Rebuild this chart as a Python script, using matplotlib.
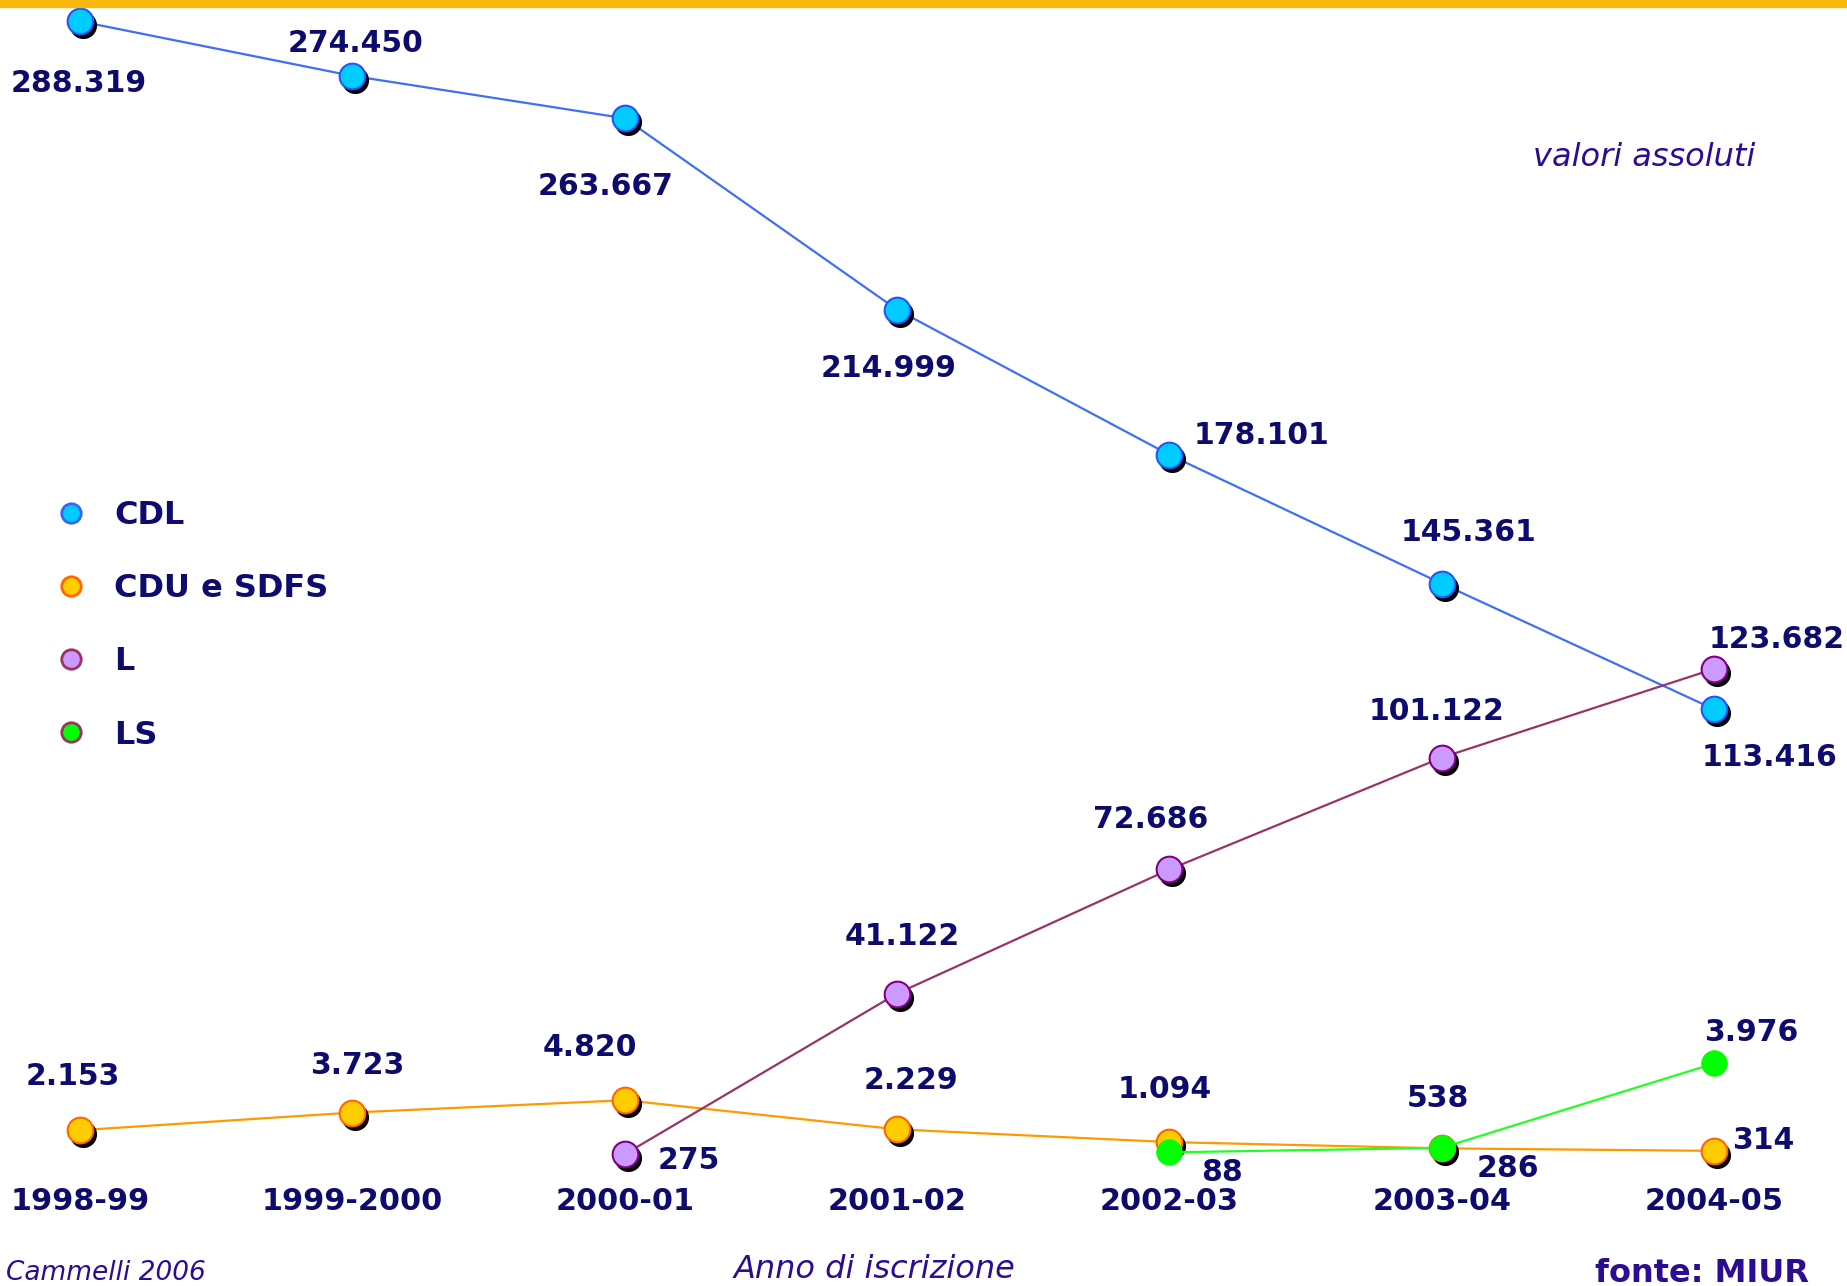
import matplotlib
matplotlib.use('Agg')
import matplotlib.pyplot as plt
from matplotlib.lines import Line2D
from matplotlib.patches import Rectangle
from matplotlib.transforms import offset_copy, blended_transform_factory

# Iscritti per tipo di corso (valori assoluti)
years = ['1998-99', '1999-2000', '2000-01', '2001-02', '2002-03', '2003-04', '2004-05']
cdl_vals = [288319, 274450, 263667, 214999, 178101, 145361, 113416]
cdu_vals = [2153, 3723, 4820, 2229, 1094, 538, 314]
l_years = ['2000-01', '2001-02', '2002-03', '2003-04', '2004-05']
l_vals = [275, 41122, 72686, 101122, 123682]
ls_years = ['2002-03', '2003-04', '2004-05']
ls_vals = [88, 286, 3976]
legend_labels = ['CDL', 'CDU e SDFS', 'L', 'LS']

NAVY = '#0D0B6E'
INDIGO = '#2C0C92'
W, H = 1847, 1286

# label offsets in points (dx, dy)
cdl_off = [(-1, -45), (2.5, 23), (-14, -49), (-6, -42), (66, 14), (19.5, 37), (40, -35)]
l_off = [(46, -4.5), (3.4, 41), (-13.6, 36), (-3.4, 33), (45, 21)]
cdu_off = [(-5, 39), (3.4, 33.6), (-25.4, 38), (10, 35), (-3.4, 38), (-2.5, 36), (35.6, 7.3)]
ls_off = [(38, -14.7), (47.5, -14.7), (27, 22.6)]


def fmt(v):
    return f'{v:,}'.replace(',', '.')


def draw_series(a, xs, ys, face, edge, line_color, offsets, shadow=True, mew=1.5):
    a.plot(xs, ys, color=line_color, lw=1.6, zorder=1)
    if shadow:
        sh = offset_copy(a.transData, fig=fig, x=3, y=-4, units='dots')
        a.plot(xs, ys, ls='none', marker='o', ms=18.5, mfc='black', mec='black',
               transform=sh, zorder=2)
    a.plot(xs, ys, ls='none', marker='o', ms=18.5, mfc=face, mec=edge, mew=mew, zorder=3)
    for x, y, (dx, dy) in zip(xs, ys, offsets):
        a.annotate(fmt(y), (x, y), xytext=(dx, dy), textcoords='offset points',
                   ha='center', va='center', fontsize=21.5, fontweight='bold',
                   color=NAVY, zorder=4)


fig = plt.figure(figsize=(W / 100, H / 100), dpi=100)
fig.patch.set_facecolor('white')

# three overlaid axes, each series group has its own vertical scale
ax_cdu = fig.add_axes([0, 0, 1, 1])
ax = fig.add_axes([0, 0, 1, 1], sharex=ax_cdu)
ax_ls = fig.add_axes([0, 0, 1, 1], sharex=ax_cdu)
for a in (ax_cdu, ax, ax_ls):
    a.set_axis_off()
    a.patch.set_visible(False)

ax_cdu.set_xlim(-0.294, 6.488)
ax.set_ylim(-33232, 293745)
ax_cdu.set_ylim(-11706, 102686)
ax_ls.set_ylim(-5759, 50505)

xi = list(range(len(years)))
l_x = [years.index(y) for y in l_years]
ls_x = [years.index(y) for y in ls_years]

draw_series(ax_cdu, xi, cdu_vals, '#FFCC00', '#FF6600', '#FF9900', cdu_off)
draw_series(ax, xi, cdl_vals, '#00CCFF', '#2255FF', '#3F6FF5', cdl_off)
draw_series(ax, l_x, l_vals, '#CC99FF', '#800080', '#993366', l_off)
draw_series(ax_ls, ls_x, ls_vals, '#00FF00', '#00FF00', '#22FF22', ls_off, shadow=False, mew=0.5)

# category labels along the bottom
tr = blended_transform_factory(ax.transData, fig.transFigure)
for x, lab in zip(xi, years):
    ax.text(x, 1 - 1210 / H, lab, transform=tr, ha='center', va='baseline',
            fontsize=21.8, fontweight='bold', color=NAVY)

# legend
handles = [
    Line2D([], [], ls='none', marker='o', ms=14, mfc='#00CCFF', mec='#3366FF', mew=2),
    Line2D([], [], ls='none', marker='o', ms=14, mfc='#FFCC00', mec='#FF6600', mew=2),
    Line2D([], [], ls='none', marker='o', ms=14, mfc='#CC99FF', mec='#993366', mew=2),
    Line2D([], [], ls='none', marker='o', ms=14, mfc='#00FF00', mec='#993366', mew=2),
]
fig.legend(handles, legend_labels, loc='upper left', bbox_to_anchor=(58 / W, 1 - 500 / H),
           frameon=False, prop={'weight': 'bold', 'size': 23}, labelcolor=NAVY,
           handlelength=0.8, handletextpad=0.95, labelspacing=1.32,
           borderpad=0, borderaxespad=0)

# decorations
fig.patches.append(Rectangle((0, 1 - 7 / H), 1, 7 / H, transform=fig.transFigure,
                             color='#F9B80E', zorder=0))
fig.text(1644 / W, 1 - 158 / H, 'valori assoluti', ha='center', va='center',
         style='italic', fontsize=23, color=INDIGO)
fig.text(875 / W, 1 - 1269 / H, 'Anno di iscrizione', ha='center', va='center',
         style='italic', fontsize=23, color=INDIGO)
fig.text(1702 / W, 1 - 1273 / H, 'fonte: MIUR', ha='center', va='center',
         fontweight='bold', fontsize=23, color=INDIGO)
fig.text(6 / W, 1 - 1273 / H, 'Cammelli 2006', ha='left', va='center',
         style='italic', fontsize=19, color=INDIGO)

fig.savefig('out.png', dpi=100)
